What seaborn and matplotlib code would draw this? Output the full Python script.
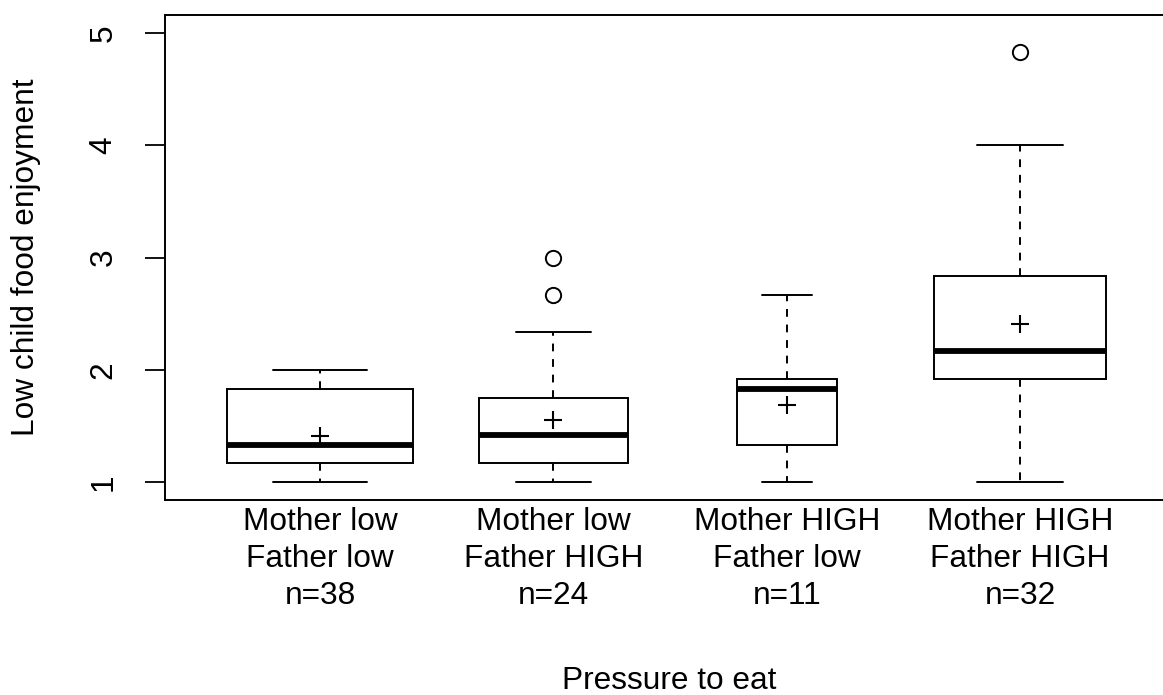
import numpy as np
import matplotlib
matplotlib.use("Agg")
import matplotlib.pyplot as plt
import seaborn as sns

# Summary values (R-style boxplot, varwidth)
groups = ["Mother low\nFather low", "Mother low\nFather HIGH",
          "Mother HIGH\nFather low", "Mother HIGH\nFather HIGH"]
n_obs = [38, 24, 11, 32]
whisk_lo = [1.0, 1.0, 1.0, 1.0]
q1 = [1.167, 1.167, 1.333, 1.917]
medians = [1.333, 1.417, 1.833, 2.167]
q3 = [1.833, 1.75, 1.917, 2.833]
whisk_hi = [2.0, 2.333, 2.667, 4.0]
means = [1.41, 1.55, 1.69, 2.41]
outliers = [[], [2.667, 3.0], [], [4.833]]

sns.set_style("white")
plt.rcParams["font.family"] = ["Liberation Sans", "DejaVu Sans"]
plt.rcParams["font.size"] = 22.8
plt.rcParams["text.color"] = "black"
plt.rcParams["axes.labelcolor"] = "black"
plt.rcParams["xtick.color"] = "black"
plt.rcParams["ytick.color"] = "black"

fig = plt.figure(figsize=(11.63, 6.95), dpi=100)
ax = fig.add_axes([165 / 1163, 1 - 500 / 695, (1174 - 165) / 1163, 485 / 695])

positions = np.arange(1, len(groups) + 1)
widths = [0.8 * np.sqrt(n / max(n_obs)) for n in n_obs]

stats = []
for i in range(len(groups)):
    stats.append({
        "whislo": whisk_lo[i], "q1": q1[i], "med": medians[i],
        "q3": q3[i], "whishi": whisk_hi[i], "fliers": outliers[i],
    })

lw = 1.4
ax.bxp(stats, positions=positions, widths=widths,
       capwidths=[w / 2 for w in widths],
       patch_artist=True, showfliers=True,
       boxprops=dict(facecolor="white", edgecolor="black", linewidth=lw),
       medianprops=dict(color="black", linewidth=4.2, solid_capstyle="butt"),
       whiskerprops=dict(color="black", linewidth=lw, linestyle=(0, (4, 4))),
       capprops=dict(color="black", linewidth=lw),
       flierprops=dict(marker="o", markerfacecolor="none", markeredgecolor="black",
                       markersize=11, markeredgewidth=1.4))

# group means as "+"
sns.scatterplot(x=positions, y=means, marker="+", s=170, color="black",
                linewidth=1.5, ax=ax, zorder=5)

ax.set_xlim(0.335, 4.66)
ax.set_ylim(0.84, 5.16)
ax.set_xticks(positions)
ax.set_xticklabels([f"{g}\nn={n}" for g, n in zip(groups, n_obs)], linespacing=1.3)
ax.set_yticks([1, 2, 3, 4, 5])
ax.set_yticklabels(["1", "2", "3", "4", "5"], rotation=90, va="center")

ax.tick_params(axis="x", length=0, pad=5)
ax.tick_params(axis="y", length=14.4, width=1.3, pad=19, left=True)

for side in ["left", "top", "bottom"]:
    ax.spines[side].set_visible(True)
    ax.spines[side].set_color("black")
    ax.spines[side].set_linewidth(1.4)
ax.spines["right"].set_visible(False)

ax.set_xlabel("Pressure to eat", labelpad=40)
ax.set_ylabel("Low child food enjoyment", labelpad=34)

fig.savefig("out.png", dpi=100)
